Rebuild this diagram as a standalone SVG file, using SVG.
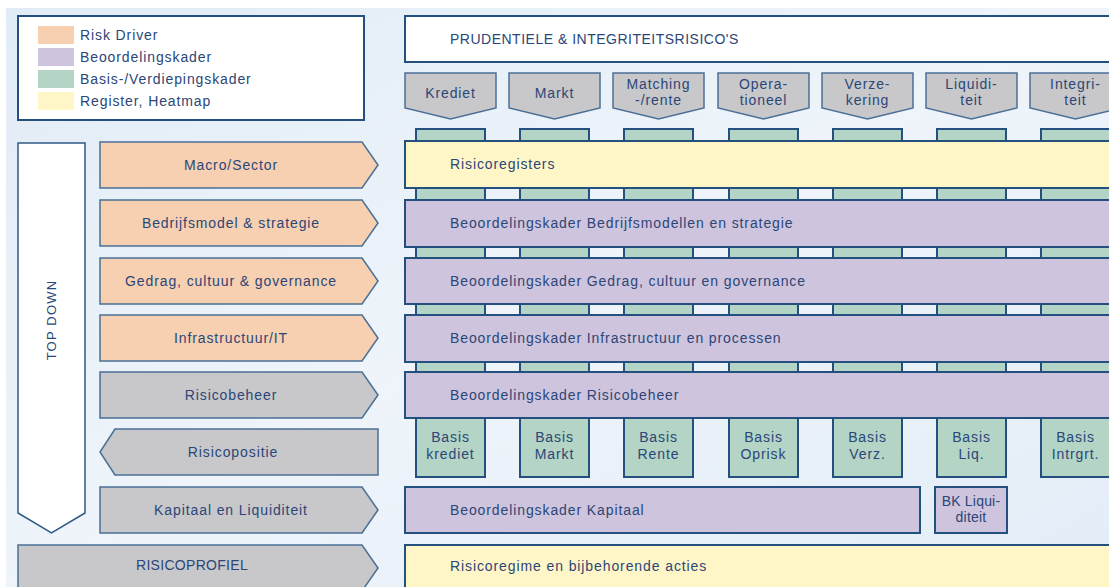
<svg xmlns="http://www.w3.org/2000/svg" width="1109" height="587" viewBox="0 0 1109 587">
<defs>
<linearGradient id="bg" x1="0" y1="0" x2="1" y2="1">
<stop offset="0" stop-color="#e2ecf6"/>
<stop offset="0.5" stop-color="#eef4fa"/>
<stop offset="1" stop-color="#e3edf7"/>
</linearGradient>
<style>
text{font-family:"Liberation Sans",Arial,sans-serif;font-size:14px;fill:#2b4677;letter-spacing:0.9px}
.c{text-anchor:middle}
.box{stroke:#245080;stroke-width:2}
.arr{stroke:#4a6f96;stroke-width:1.5}
.or{fill:#f7d0b2}.pu{fill:#cfc4de}.gr{fill:#b4d4c5}.ye{fill:#fff6c7}.gy{fill:#c8c8ca}.wh{fill:#ffffff}
</style>
</defs>
<rect x="0" y="0" width="1109" height="587" fill="#ffffff"/>
<rect x="6" y="8" width="1103" height="579" fill="url(#bg)"/>

<g id="legend">
<rect x="18" y="16" width="346" height="104" class="box wh"/>
<rect x="38" y="26" width="36" height="18" class="or"/>
<rect x="38" y="48" width="36" height="18" class="pu"/>
<rect x="38" y="70" width="36" height="18" class="gr"/>
<rect x="38" y="92" width="36" height="18" class="ye"/>
<text x="80" y="40">Risk Driver</text>
<text x="80" y="62">Beoordelingskader</text>
<text x="80" y="84">Basis-/Verdiepingskader</text>
<text x="80" y="106">Register, Heatmap</text>
</g>

<g id="header">
<rect x="405" y="16" width="720" height="46" class="box wh"/>
<text x="450" y="44" style="letter-spacing:0.5px">PRUDENTIELE &amp; INTEGRITEITSRISICO'S</text>
</g>

<g id="columns">
<rect x="416" y="129" width="69" height="348" class="box gr"/>
<rect x="520" y="129" width="69" height="348" class="box gr"/>
<rect x="624" y="129" width="69" height="348" class="box gr"/>
<rect x="729" y="129" width="69" height="348" class="box gr"/>
<rect x="833" y="129" width="69" height="348" class="box gr"/>
<rect x="937" y="129" width="69" height="348" class="box gr"/>
<rect x="1041" y="129" width="69" height="348" class="box gr"/>
</g>

<g id="chevrons">
<g id="ch-krediet"><polygon points="405,73 496,73 496,108 450.5,119 405,108" class="arr gy"/><text x="450.5" y="98" class="c">Krediet</text></g>
<g id="ch-markt"><polygon points="509,73 600,73 600,108 554.5,119 509,108" class="arr gy"/><text x="554.5" y="98" class="c">Markt</text></g>
<g id="ch-matching"><polygon points="613,73 704,73 704,108 658.5,119 613,108" class="arr gy"/><text x="658.5" y="89" class="c">Matching</text><text x="658.5" y="105" class="c">-/rente</text></g>
<g id="ch-oper"><polygon points="718,73 809,73 809,108 763.5,119 718,108" class="arr gy"/><text x="763.5" y="89" class="c">Opera-</text><text x="763.5" y="105" class="c">tioneel</text></g>
<g id="ch-verz"><polygon points="822,73 913,73 913,108 867.5,119 822,108" class="arr gy"/><text x="867.5" y="89" class="c">Verze-</text><text x="867.5" y="105" class="c">kering</text></g>
<g id="ch-liq"><polygon points="926,73 1017,73 1017,108 971.5,119 926,108" class="arr gy"/><text x="971.5" y="89" class="c">Liquidi-</text><text x="971.5" y="105" class="c">teit</text></g>
<g id="ch-integ"><polygon points="1030,73 1121,73 1121,108 1075.5,119 1030,108" class="arr gy"/><text x="1075.5" y="89" class="c">Integri-</text><text x="1075.5" y="105" class="c">teit</text></g>
</g>

<g id="topdown">
<polygon points="18,143 85,143 85,513 51.5,533 18,513" class="arr wh" style="stroke:#2f5a88"/>
<text x="0" y="0" class="c" transform="translate(56,320) rotate(-90)" style="font-size:13px;letter-spacing:1.2px">TOP DOWN</text>
</g>

<g id="left-arrows">
<g id="l-macro"><polygon points="100,142 362,142 378,165 362,188 100,188" class="arr or"/><text x="231" y="170" class="c">Macro/Sector</text></g>
<g id="l-bedrijf"><polygon points="100,200 362,200 378,223 362,246 100,246" class="arr or"/><text x="231" y="228" class="c">Bedrijfsmodel &amp; strategie</text></g>
<g id="l-gedrag"><polygon points="100,258 362,258 378,281 362,304 100,304" class="arr or"/><text x="231" y="286" class="c">Gedrag, cultuur &amp; governance</text></g>
<g id="l-infra"><polygon points="100,315 362,315 378,338 362,361 100,361" class="arr or"/><text x="231" y="343" class="c">Infrastructuur/IT</text></g>
<g id="l-risicobeheer"><polygon points="100,372 362,372 378,395 362,418 100,418" class="arr gy"/><text x="231" y="400" class="c">Risicobeheer</text></g>
<g id="l-risicopositie"><polygon points="115,429 378,429 378,475 115,475 100,452" class="arr gy"/><text x="233" y="457" class="c">Risicopositie</text></g>
<g id="l-kapitaal"><polygon points="100,487 362,487 378,510 362,533 100,533" class="arr gy"/><text x="231" y="515" class="c">Kapitaal en Liquiditeit</text></g>
<g id="l-risicoprofiel"><polygon points="18,545 362,545 378,568 362,591 18,591" class="arr gy"/><text x="192" y="570" class="c" style="letter-spacing:0.3px">RISICOPROFIEL</text></g>
</g>

<g id="rows">
<g id="r-registers"><rect x="405" y="141" width="720" height="47" class="box ye"/><text x="450" y="169">Risicoregisters</text></g>
<g id="r-bedrijf"><rect x="405" y="200" width="720" height="47" class="box pu"/><text x="450" y="228">Beoordelingskader Bedrijfsmodellen en strategie</text></g>
<g id="r-gedrag"><rect x="405" y="258" width="720" height="46" class="box pu"/><text x="450" y="286">Beoordelingskader Gedrag, cultuur en governance</text></g>
<g id="r-infra"><rect x="405" y="315" width="720" height="47" class="box pu"/><text x="450" y="343">Beoordelingskader Infrastructuur en processen</text></g>
<g id="r-risicobeheer"><rect x="405" y="372" width="720" height="46" class="box pu"/><text x="450" y="400">Beoordelingskader Risicobeheer</text></g>
<g id="r-kapitaal"><rect x="405" y="487" width="515" height="46" class="box pu"/><text x="450" y="515">Beoordelingskader Kapitaal</text></g>
<g id="r-bkliq"><rect x="935" y="487" width="72" height="46" class="box pu"/><text x="971" y="506" class="c" style="letter-spacing:0.2px">BK Liqui-</text><text x="971" y="522" class="c" style="letter-spacing:0.2px">diteit</text></g>
<g id="r-regime"><rect x="405" y="545" width="720" height="50" class="box ye"/><text x="450" y="571">Risicoregime en bijbehorende acties</text></g>
</g>

<g id="basis">
<g id="b-krediet"><text x="450.5" y="442" class="c">Basis</text><text x="450.5" y="459" class="c">krediet</text></g>
<g id="b-markt"><text x="554.5" y="442" class="c">Basis</text><text x="554.5" y="459" class="c">Markt</text></g>
<g id="b-rente"><text x="658.5" y="442" class="c">Basis</text><text x="658.5" y="459" class="c">Rente</text></g>
<g id="b-oprisk"><text x="763.5" y="442" class="c">Basis</text><text x="763.5" y="459" class="c">Oprisk</text></g>
<g id="b-verz"><text x="867.5" y="442" class="c">Basis</text><text x="867.5" y="459" class="c">Verz.</text></g>
<g id="b-liq"><text x="971.5" y="442" class="c">Basis</text><text x="971.5" y="459" class="c">Liq.</text></g>
<g id="b-intgrt"><text x="1075.5" y="442" class="c">Basis</text><text x="1075.5" y="459" class="c">Intrgrt.</text></g>
</g>

<g id="connectors"></g>
</svg>
